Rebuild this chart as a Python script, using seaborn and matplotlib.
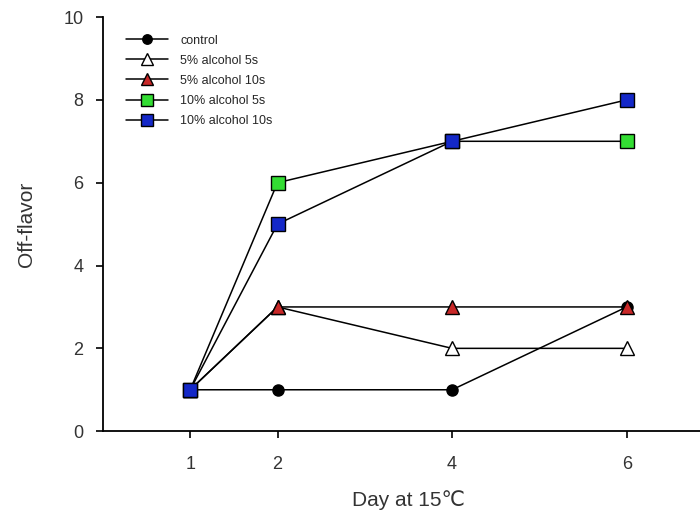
import matplotlib
matplotlib.use("Agg")
import matplotlib.pyplot as plt
import seaborn as sns
import pandas as pd

days = [1, 2, 4, 6]
control = [1, 1, 1, 3]
alc5_5s = [1, 3, 2, 2]
alc5_10s = [1, 3, 3, 3]
alc10_5s = [1, 6, 7, 7]
alc10_10s = [1, 5, 7, 8]
labels = ["control", "5% alcohol 5s", "5% alcohol 10s", "10% alcohol 5s", "10% alcohol 10s"]
series = [control, alc5_5s, alc5_10s, alc10_5s, alc10_10s]

sns.set_style("ticks")
plt.rcParams['font.family'] = ['Liberation Sans', 'DejaVu Sans']

fig = plt.figure(figsize=(7, 5.17), dpi=100)
ax = fig.add_axes([0.147, 0.166, 0.873, 0.801])

styles = [
    dict(marker="o", mfc="black", ms=8),
    dict(marker="^", mfc="white", ms=10),
    dict(marker="^", mfc="#C82828", ms=10),
    dict(marker="s", mfc="#33DD33", ms=10),
    dict(marker="s", mfc="#1428C8", ms=10),
]

for lab, vals, st in zip(labels, series, styles):
    df = pd.DataFrame({"day": days, "val": vals})
    sns.lineplot(data=df, x="day", y="val", ax=ax, color="black", lw=1.1,
                 marker=st["marker"], markerfacecolor=st["mfc"], markeredgecolor="black",
                 markersize=st["ms"], markeredgewidth=1, label=lab)

ax.set_xlim(0, 7)
ax.set_ylim(0, 10)
ax.set_xticks(days)
ax.set_yticks([0, 2, 4, 6, 8, 10])
ax.tick_params(direction="out", length=5, width=1.2, labelsize=13, colors="black",
               labelcolor="#333333")
ax.tick_params(axis="x", pad=13)
ax.tick_params(axis="y", pad=9)
for s in ["top", "right"]:
    ax.spines[s].set_visible(False)
for s in ["left", "bottom"]:
    ax.spines[s].set_linewidth(1.3)
    ax.spines[s].set_color("black")
ax.set_xlabel("Day at 15℃", fontsize=15, labelpad=12, color="#333333")
ax.set_ylabel("Off-flavor", fontsize=15, labelpad=20, color="#333333")

leg = ax.legend(loc="upper left", frameon=False, fontsize=9, bbox_to_anchor=(0.02, 0.985),
                handlelength=3.3, labelspacing=0.65, borderaxespad=0.5, markerscale=0.85,
                handletextpad=1.0)

fig.savefig("out.png", dpi=100)
